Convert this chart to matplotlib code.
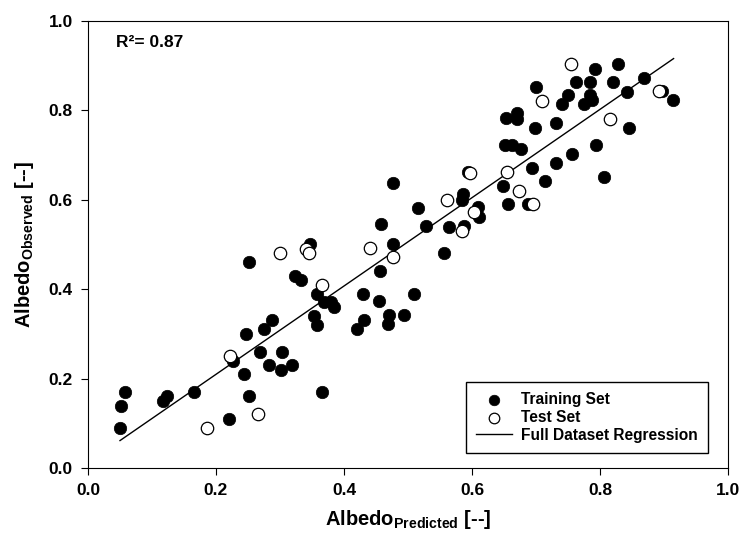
import numpy as np
import matplotlib
matplotlib.use("Agg")
import matplotlib.pyplot as plt

plt.rcParams['font.family'] = ['Liberation Sans', 'DejaVu Sans']
plt.rcParams['mathtext.fontset'] = 'custom'
plt.rcParams['mathtext.rm'] = 'Liberation Sans'
plt.rcParams['mathtext.bf'] = 'Liberation Sans:bold'

# training set (filled circles): predicted, observed
train_x = [0.050, 0.051, 0.058, 0.117, 0.124, 0.166, 0.220, 0.251, 0.244, 0.227,
           0.268, 0.283, 0.302, 0.303, 0.319, 0.247, 0.275, 0.287, 0.251, 0.347,
           0.324, 0.333, 0.358, 0.369, 0.379, 0.385, 0.353, 0.358, 0.366, 0.476,
           0.458, 0.515, 0.528, 0.564, 0.586, 0.584, 0.593, 0.610, 0.611, 0.588,
           0.557, 0.476, 0.456, 0.429, 0.455, 0.510, 0.432, 0.420, 0.471, 0.469,
           0.494, 0.792, 0.828, 0.700, 0.762, 0.785, 0.820, 0.869, 0.750, 0.741,
           0.785, 0.787, 0.775, 0.842, 0.897, 0.914, 0.653, 0.671, 0.671, 0.699,
           0.731, 0.845, 0.652, 0.662, 0.676, 0.793, 0.756, 0.731, 0.693, 0.714,
           0.806, 0.648, 0.656, 0.688]
train_y = [0.090, 0.139, 0.170, 0.150, 0.160, 0.170, 0.110, 0.160, 0.210, 0.240,
           0.260, 0.230, 0.220, 0.260, 0.230, 0.300, 0.310, 0.330, 0.460, 0.500,
           0.430, 0.420, 0.390, 0.372, 0.372, 0.360, 0.340, 0.320, 0.170, 0.636,
           0.545, 0.582, 0.541, 0.538, 0.612, 0.600, 0.661, 0.583, 0.562, 0.541,
           0.481, 0.500, 0.441, 0.390, 0.374, 0.390, 0.331, 0.311, 0.342, 0.322,
           0.342, 0.892, 0.902, 0.852, 0.862, 0.862, 0.862, 0.871, 0.833, 0.813,
           0.834, 0.822, 0.813, 0.841, 0.842, 0.822, 0.782, 0.793, 0.781, 0.761,
           0.772, 0.761, 0.721, 0.721, 0.712, 0.721, 0.701, 0.681, 0.671, 0.641,
           0.651, 0.631, 0.591, 0.591]

# test set (open circles)
test_x = [0.186, 0.265, 0.222, 0.300, 0.341, 0.345, 0.366, 0.561, 0.597, 0.603,
          0.584, 0.441, 0.477, 0.755, 0.710, 0.892, 0.816, 0.654, 0.673, 0.696]
test_y = [0.090, 0.120, 0.250, 0.480, 0.490, 0.480, 0.410, 0.600, 0.660, 0.572,
          0.530, 0.491, 0.471, 0.902, 0.821, 0.842, 0.781, 0.661, 0.620, 0.591]

# full dataset regression line
reg_x = [0.05, 0.915]
slope = 0.987
intercept = 0.012
r2_text = "R²= 0.87"

fig = plt.figure(figsize=(7.42, 5.42), dpi=100)
ax = fig.add_axes([0.1186, 0.1365, 0.8625, 0.8255])

ax.scatter(train_x, train_y, s=80, c="black", edgecolors="black", linewidths=0.5,
           zorder=3, label="Training Set")
ax.scatter(test_x, test_y, s=80, c="white", edgecolors="black", linewidths=0.9,
           zorder=3, label="Test Set")
reg_y = [slope * v + intercept for v in reg_x]
ax.plot(reg_x, reg_y, color="black", lw=1, zorder=2, label="Full Dataset Regression")

ax.set_xlim(0, 1)
ax.set_ylim(0, 1)
ticks = np.arange(0, 1.01, 0.2)
ax.set_xticks(ticks)
ax.set_yticks(ticks)
ax.set_xticklabels([f"{t:.1f}" for t in ticks], fontweight="bold", fontsize=12.5)
ax.set_yticklabels([f"{t:.1f}" for t in ticks], fontweight="bold", fontsize=12.5)
ax.tick_params(direction="out", length=5, width=0.8, pad=6)

ax.set_xlabel(r"Albedo$_{\mathbf{Predicted}}$ [--]", fontsize=14.5, fontweight="bold", labelpad=7)
ax.set_ylabel(r"Albedo$_{\mathbf{Observed}}$ [--]", fontsize=14.5, fontweight="bold", labelpad=9)

ax.text(0.043, 0.95, r2_text, fontsize=12.5, fontweight="bold", va="center", ha="left")

leg = ax.legend(loc="lower right", bbox_to_anchor=(0.969, 0.0335), fancybox=False,
                edgecolor="black", framealpha=1, prop={"weight": "bold", "size": 11.2},
                handlelength=2.3, borderpad=0.65, labelspacing=0.2, handletextpad=0.6,
                borderaxespad=0, markerscale=0.85)
leg.get_frame().set_linewidth(1.0)

fig.savefig("out.png", dpi=100)
